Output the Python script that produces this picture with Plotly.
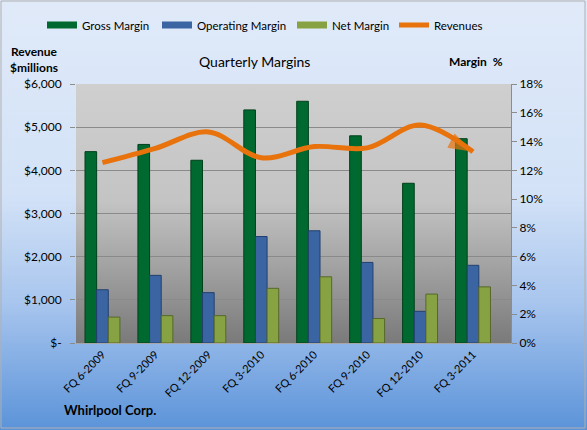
import base64

import plotly.graph_objects as go

quarters = ["FQ 6-2009", "FQ 9-2009", "FQ 12-2009", "FQ 3-2010",
            "FQ 6-2010", "FQ 9-2010", "FQ 12-2010", "FQ 3-2011"]
gross_margin = [13.3, 13.8, 12.7, 16.2, 16.8, 14.4, 11.1, 14.2]
operating_margin = [3.7, 4.7, 3.5, 7.4, 7.8, 5.6, 2.2, 5.4]
net_margin = [1.8, 1.9, 1.9, 3.8, 4.6, 1.7, 3.4, 3.9]
revenues = [4180, 4510, 4890, 4290, 4550, 4520, 5050, 4430]

left_ticks = [0, 1000, 2000, 3000, 4000, 5000, 6000]
left_labels = ["$-", "$1,000", "$2,000", "$3,000", "$4,000", "$5,000", "$6,000"]

W, H = 587, 430
L, R, T, B = 76, 76, 84, 87
FONT = "Lato"


def gradient(stops):
    parts = "".join(f'<stop offset="{o}" stop-color="{c}"/>' for o, c in stops)
    svg = ('<svg xmlns="http://www.w3.org/2000/svg" width="100" height="100" '
           'preserveAspectRatio="none"><defs><linearGradient id="g" x1="0" y1="0" '
           f'x2="0" y2="1">{parts}</linearGradient></defs>'
           '<rect width="100" height="100" fill="url(#g)"/></svg>')
    return "data:image/svg+xml;base64," + base64.b64encode(svg.encode()).decode()


pw = W - L - R
ph = H - T - B


def px(x, y):
    # pixel position in the figure -> paper coordinates
    return (x - L) / pw, 1 - (y - T) / ph


fig = go.Figure()

bar_specs = [
    ("Gross Margin", gross_margin, "#00692f", "#00401c"),
    ("Operating Margin", operating_margin, "#3b64a2", "#22406e"),
    ("Net Margin", net_margin, "#87a243", "#56682a"),
]
legend_ids = ["legend", "legend2", "legend3", "legend4"]

for name, vals, col, edge in bar_specs:
    fig.add_trace(go.Bar(
        x=quarters, y=vals, name=name, yaxis="y", showlegend=False,
        marker=dict(color=col, line=dict(color=edge, width=1)),
    ))
# wide flat legend swatches like the Excel legend
for (name, vals, col, edge), lg in zip(bar_specs, legend_ids):
    fig.add_trace(go.Scatter(
        x=[None], y=[None], name=name, mode="lines", yaxis="y", legend=lg,
        line=dict(color=col, width=7),
    ))

fig.add_trace(go.Scatter(
    x=quarters, y=revenues, name="Revenues", yaxis="y2", legend="legend4",
    mode="lines+markers",
    line=dict(color="#e8720c", width=5, shape="spline", smoothing=1),
    marker=dict(symbol="arrow", angleref="previous", color="#e8720c",
                line=dict(width=0),
                size=[0] * (len(revenues) - 1) + [26]),
))


def note(text, x, y, size=12, xanchor="center"):
    ax, ay = px(x, y)
    return dict(text=text, x=ax, y=ay, xref="paper", yref="paper",
                showarrow=False, xanchor=xanchor, yanchor="middle",
                font=dict(size=size))


def legend_at(x):
    lx, ly = px(x, 25)
    return dict(orientation="h", x=lx, xanchor="left", y=ly, yanchor="middle",
                itemwidth=30, font=dict(family=FONT, size=11.5),
                bgcolor="rgba(0,0,0,0)")


fig.update_layout(
    width=W, height=H,
    margin=dict(l=L, r=R, t=T, b=B, autoexpand=False),
    paper_bgcolor="#dfe9f8",
    plot_bgcolor="rgba(0,0,0,0)",
    font=dict(family=FONT, size=12, color="#000000"),
    barmode="group", bargap=0.34, bargroupgap=0,
    showlegend=True,
    legend=legend_at(42),
    legend2=legend_at(157),
    legend3=legend_at(292),
    legend4=legend_at(394),
    xaxis=dict(tickangle=-45, showgrid=False, showline=True, automargin=False,
               linecolor="#a6a6a6", ticks="", tickfont=dict(size=11)),
    yaxis=dict(side="right", range=[0, 18], tickvals=list(range(0, 19, 2)),
               ticktext=[f"{v}%" for v in range(0, 19, 2)], automargin=False,
               showgrid=False, showline=True, linecolor="#8c8c8c",
               ticks="outside", ticklen=5, tickcolor="#8c8c8c", zeroline=False),
    yaxis2=dict(side="left", overlaying="y", range=[0, 6000], automargin=False,
                tickvals=left_ticks, ticktext=left_labels,
                showgrid=True, gridcolor="#8a8a8a", gridwidth=1,
                ticks="outside", ticklen=5, tickcolor="#8c8c8c",
                ticklabelstandoff=6, showline=False, zeroline=False),
    images=[
        dict(source=gradient([(0, "#e0eaf9"), (0.45, "#d3e2f7"), (0.7, "#a9c6ee"),
                              (1, "#5b93d9")]),
             xref="paper", yref="paper", x=-L / pw, y=1 + T / ph,
             sizex=W / pw, sizey=H / ph, xanchor="left", yanchor="top",
             sizing="stretch", layer="below"),
        dict(source=gradient([(0, "#cfcfcf"), (0.45, "#c4c4c4"), (0.75, "#9c9c9c"),
                              (1, "#7a7a7a")]),
             xref="paper", yref="paper", x=0, y=1, sizex=1, sizey=1,
             xanchor="left", yanchor="top", sizing="stretch", layer="below"),
    ],
    annotations=[
        note("Quarterly Margins", 254, 62, size=14),
        note("<b>Revenue<br>$millions</b>", 34, 60),
        note("<b>Margin  %</b>", 476, 62),
        note("<b>Whirlpool Corp.</b>", 62, 410, size=13, xanchor="left"),
    ],
    shapes=[
        dict(type="rect", xref="paper", yref="paper",
             x0=px(1, 0)[0], x1=px(W - 2, 0)[0],
             y0=px(0, H - 2)[1], y1=px(0, 1)[1],
             line=dict(color="#b0b0b0", width=1), layer="below"),
    ],
)

# page body has a default 8px margin; drop it so the chart sits at 0,0
fig.write_html("out.html", config={"displayModeBar": False},
               post_script="document.body.style.margin = '0';")
